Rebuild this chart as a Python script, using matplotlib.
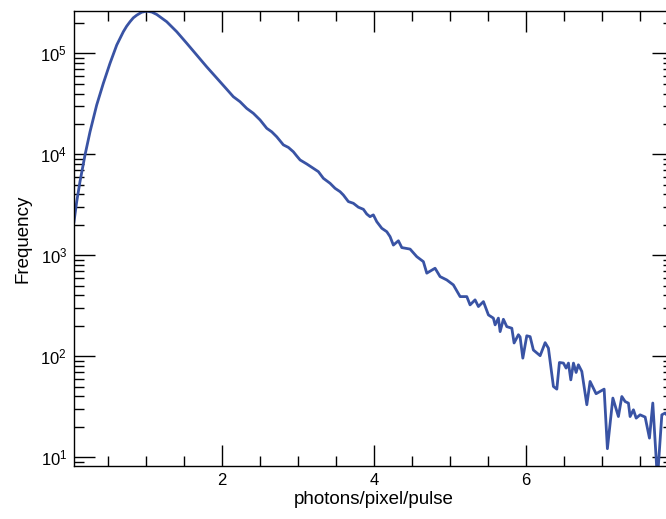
import math
import matplotlib
matplotlib.use('Agg')
import matplotlib.pyplot as plt
from matplotlib.ticker import LogLocator, MultipleLocator, FixedLocator, FuncFormatter

plt.rcParams['font.family'] = ['Liberation Sans', 'DejaVu Sans']
plt.rcParams['mathtext.fontset'] = 'custom'
plt.rcParams['mathtext.rm'] = 'Liberation Sans'
plt.rcParams['mathtext.it'] = 'Liberation Sans:italic'

# histogram of photon counts per pixel per pulse
photons = [0.050, 0.086, 0.129, 0.195, 0.261, 0.349, 0.436, 0.524, 0.613, 0.700,
           0.744, 0.788, 0.831, 0.876, 0.942, 1.008, 1.074, 1.140, 1.271, 1.403,
           1.535, 1.667, 1.798, 1.930, 2.062, 2.149, 2.237, 2.325, 2.412, 2.501,
           2.589, 2.655, 2.721, 2.808, 2.874, 2.939, 2.984, 3.028, 3.116, 3.203,
           3.269, 3.335, 3.423, 3.489, 3.555, 3.598, 3.664, 3.730, 3.796, 3.862,
           3.906, 3.949, 3.993, 4.038, 4.104, 4.170, 4.213, 4.257, 4.323, 4.368,
           4.477, 4.565, 4.652, 4.697, 4.806, 4.872, 4.960, 5.047, 5.136, 5.224,
           5.267, 5.333, 5.377, 5.443, 5.509, 5.574, 5.597, 5.640, 5.663, 5.706,
           5.751, 5.817, 5.847, 5.904, 5.926, 5.962, 6.014, 6.058, 6.101, 6.190,
           6.256, 6.299, 6.365, 6.410, 6.444, 6.497, 6.532, 6.563, 6.594, 6.629,
           6.664, 6.694, 6.739, 6.805, 6.848, 6.927, 7.033, 7.076, 7.148, 7.221,
           7.266, 7.309, 7.353, 7.375, 7.419, 7.455, 7.507, 7.573, 7.630, 7.674,
           7.735, 7.793, 7.836, 7.880]
frequency = [2150, 3400, 5360, 9840, 16700, 30800, 50400, 79600, 121000, 164000,
             186000, 206000, 225000, 239000, 256000, 262000, 257000, 243000, 206000, 164000,
             126000, 96200, 73600, 57000, 44100, 37200, 33200, 28500, 25500, 21900,
             18100, 16700, 14900, 12400, 11700, 10600, 9620, 8790, 8020, 7260,
             6730, 5780, 5160, 4600, 4260, 3950, 3400, 3270, 2990, 2850,
             2560, 2410, 2510, 2150, 1850, 1710, 1530, 1260, 1390, 1190,
             1150, 968, 864, 664, 743, 614, 569, 508, 389, 389,
             322, 361, 310, 347, 256, 238, 204, 238, 175, 232,
             196, 189, 135, 163, 155, 95.5, 159, 156, 115, 101,
             136, 120, 50, 47.1, 86.5, 85.3, 76.1, 85.3, 58.2, 85.3,
             68.9, 82.1, 70.5, 33, 56.1, 42.4, 47.1, 12.1, 38.4, 25.2,
             39.8, 35.5, 34.2, 25.2, 29.4, 24.3, 26.2, 24.9, 15.4, 34.3,
             6.0, 26.2, 27.3, 25.0]

fig = plt.figure(figsize=(6.66, 5.19), dpi=100)
ax = fig.add_axes([0.1111, 0.1021, 0.8994, 0.8767])

ax.plot(photons, frequency, color='#3953a4', lw=2.0)

ax.set_yscale('log')
ax.set_xlim(0.05, 7.94)
ax.set_ylim(8.15, 2.63e5)

ax.xaxis.set_major_locator(FixedLocator([2, 4, 6]))
ax.xaxis.set_minor_locator(MultipleLocator(0.5))
ax.yaxis.set_major_locator(LogLocator(base=10))
ax.yaxis.set_minor_locator(LogLocator(base=10, subs=range(2, 10)))
ax.yaxis.set_major_formatter(FuncFormatter(lambda v, p: r'$10^{%d}$' % round(math.log10(v))))

ax.tick_params(which='both', direction='in', top=True, right=True, width=1.0,
               color='black', labelsize=12, pad=5)
ax.tick_params(which='major', length=15)
ax.tick_params(which='minor', length=7.5)

for s in ax.spines.values():
    s.set_linewidth(1.0)

ax.set_xlabel('photons/pixel/pulse', fontsize=13.5, labelpad=2)
ax.set_ylabel('Frequency', fontsize=13.5, labelpad=6)

fig.savefig('out.png', dpi=100)
